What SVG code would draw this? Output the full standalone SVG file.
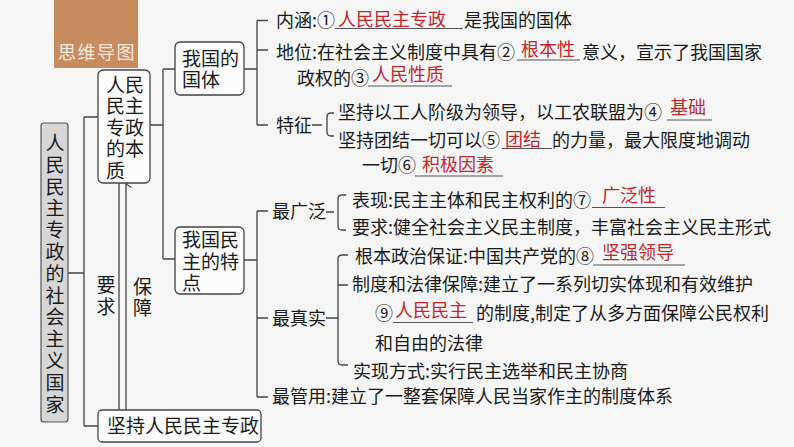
<svg xmlns="http://www.w3.org/2000/svg" width="794" height="447" viewBox="0 0 794 447">
<style>
text{font-family:"Noto Sans CJK SC","Noto Sans",sans-serif;font-size:18px;fill:#1a1a1a}
.n{font-size:19px}
.r{fill:#c1272d}
.u{stroke:#555;stroke-width:1}
.c{fill:none;stroke:#444;stroke-width:1.3}
.box{fill:#fcfcfc;stroke:#444;stroke-width:1.3}
</style>
<defs>
<marker id="ah" viewBox="0 0 10 10" refX="5" refY="1" markerWidth="7" markerHeight="7" orient="auto-start-reverse" markerUnits="userSpaceOnUse">
<path d="M0,9 L5,1 L10,9" fill="none" stroke="#444" stroke-width="1.6"/>
</marker>
</defs>
<rect width="794" height="447" fill="#f6f6f6"/>
<g id="header">
<rect x="54" y="0" width="84" height="68" fill="#c88b5e"/>
<text x="97" y="59" text-anchor="middle" style="fill:#f7ebe0;letter-spacing:1.5px">思维导图</text>
</g>
<g id="connectors">
<path class="c" d="M68,273 H84 M84,117 V426 M84,117 H98 M84,426 H98"/>
<path class="c" d="M119,183 V410"/>
<path class="c" d="M126,410 V184" marker-end="url(#ah)"/>
<path class="c" d="M150,125 H163 M163,69 V259 M163,69 H175 M163,259 H175"/>
<path class="c" d="M244,69 H257 M257,20.5 V125 M257,20.5 H268 M257,50 H268 M257,125 H268"/>
<path class="c" d="M312,125 H322 M334,113 H331 Q327,113 327,117 V132 Q327,136 331,136 H334"/>
<path class="c" d="M244,260 H257 M257,211 V397 M257,211 H268 M257,318 H268 M257,397 H268"/>
<path class="c" d="M326,212 H334 M346,195 H342 Q338,195 338,199 V226 Q338,230 342,230 H346"/>
<path class="c" d="M326,318 H338 M348,255 H342 Q338,255 338,259 V361 Q338,365 342,365 H348 M338,285 H348"/>
</g>
<g id="n-root">
<rect x="41" y="123" width="27" height="299" rx="3" fill="#d6d6d6" stroke="#555" stroke-width="1.2"/>
<text class="n" text-anchor="middle"><tspan x="55" y="150">人</tspan><tspan x="55" dy="21.8">民</tspan><tspan x="55" dy="21.8">民</tspan><tspan x="55" dy="21.8">主</tspan><tspan x="55" dy="21.8">专</tspan><tspan x="55" dy="21.8">政</tspan><tspan x="55" dy="21.8">的</tspan><tspan x="55" dy="21.8">社</tspan><tspan x="55" dy="21.8">会</tspan><tspan x="55" dy="21.8">主</tspan><tspan x="55" dy="21.8">义</tspan><tspan x="55" dy="21.8">国</tspan><tspan x="55" dy="21.8">家</tspan></text>
</g>
<g id="n-essence">
<rect class="box" x="98" y="70" width="52" height="113" rx="5"/>
<text class="n"><tspan x="106" y="91.5">人民</tspan><tspan x="106" y="113">民主</tspan><tspan x="106" y="134.5">专政</tspan><tspan x="106" y="156">的本</tspan><tspan x="106" y="178">质</tspan></text>
</g>
<g id="n-guoti">
<rect class="box" x="175" y="42" width="69" height="53" rx="5"/>
<text class="n"><tspan x="182" y="65.5">我国的</tspan><tspan x="182" y="86.5">国体</tspan></text>
</g>
<g id="n-features">
<rect class="box" x="175" y="227" width="69" height="67" rx="5"/>
<text class="n"><tspan x="182" y="247">我国民</tspan><tspan x="182" y="269">主的特</tspan><tspan x="182" y="290">点</tspan></text>
</g>
<g id="n-insist">
<rect class="box" x="98" y="410" width="163" height="32" rx="4"/>
<text class="n" x="107" y="433">坚持人民民主专政</text>
</g>
<g id="labels-left">
<text class="n" text-anchor="middle"><tspan x="106" y="292">要</tspan><tspan x="106" y="314">求</tspan></text>
<text class="n" text-anchor="middle"><tspan x="142.5" y="294">保</tspan><tspan x="142.5" y="315">障</tspan></text>
</g>
<g id="guoti-items">
<text x="276" y="27">内涵:①</text>
<line class="u" x1="335" y1="28.5" x2="463" y2="28.5"/>
<text class="r" x="338" y="26">人民民主专政</text>
<text x="464" y="27">是我国的国体</text>
<text x="276" y="58.5">地位:在社会主义制度中具有②</text>
<line class="u" x1="517" y1="60" x2="580" y2="60"/>
<text class="r" x="521" y="56">根本性</text>
<text x="582" y="58.5">意义，宣示了我国国家</text>
<text x="297" y="84.5">政权的③</text>
<line class="u" x1="368" y1="86" x2="452" y2="86"/>
<text class="r" x="372" y="81">人民性质</text>
<text x="276" y="131.5">特征</text>
<text x="338" y="119">坚持以工人阶级为领导，以工农联盟为④</text>
<line class="u" x1="667" y1="120" x2="712" y2="120"/>
<text class="r" x="670" y="114">基础</text>
<text x="338" y="147">坚持团结一切可以⑤</text>
<line class="u" x1="502" y1="148.5" x2="552" y2="148.5"/>
<text class="r" x="505" y="146">团结</text>
<text x="552" y="147">的力量，最大限度地调动</text>
<text x="362" y="171.5">一切⑥</text>
<line class="u" x1="415" y1="176" x2="503" y2="176"/>
<text class="r" x="422" y="171">积极因素</text>
</g>
<g id="features-items">
<text x="272" y="218">最广泛</text>
<text x="352" y="207">表现:民主主体和民主权利的⑦</text>
<line class="u" x1="592" y1="207.5" x2="665" y2="207.5"/>
<text class="r" x="602" y="202">广泛性</text>
<text x="352" y="234">要求:健全社会主义民主制度，丰富社会主义民主形式</text>
<text x="272" y="325">最真实</text>
<text x="355" y="263">根本政治保证:中国共产党的⑧</text>
<line class="u" x1="593" y1="265" x2="685" y2="265"/>
<text class="r" x="602" y="259">坚强领导</text>
<text x="352" y="291">制度和法律保障:建立了一系列切实体现和有效维护</text>
<text x="375" y="319.5">⑨</text>
<line class="u" x1="393" y1="322.5" x2="473" y2="322.5"/>
<text class="r" x="395" y="316.5">人民民主</text>
<text x="476" y="319.5">的制度,制定了从多方面保障公民权利</text>
<text x="375" y="349.5">和自由的法律</text>
<text x="353" y="378">实现方式:实行民主选举和民主协商</text>
<text x="272" y="403">最管用:建立了一整套保障人民当家作主的制度体系</text>
</g>
</svg>
